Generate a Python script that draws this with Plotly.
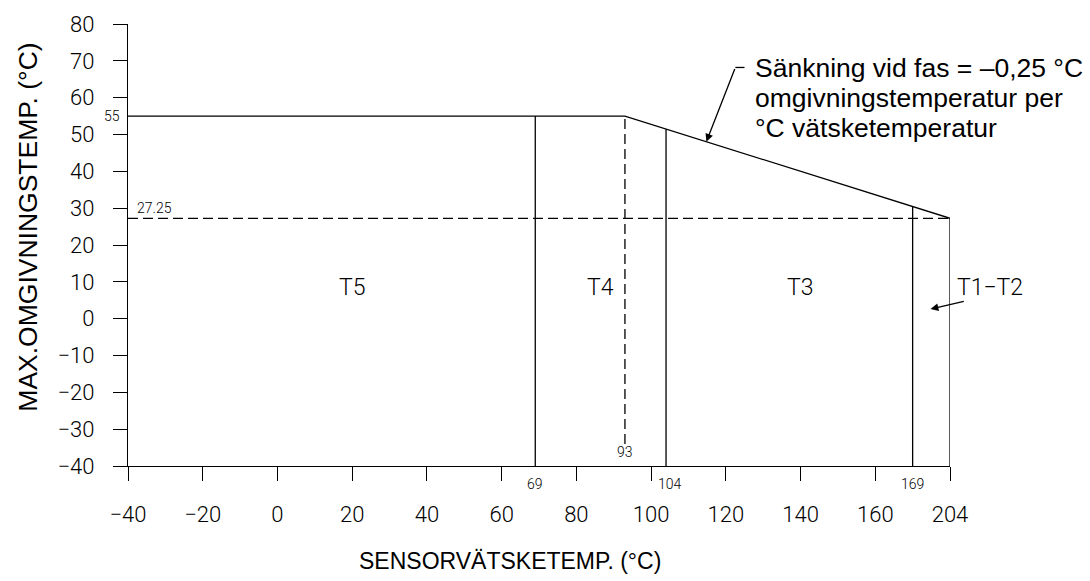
import numpy as np
import plotly.graph_objects as go

# ---- data (drawing positions on the chart's own axes) ----
# Envelope of max ambient temperature vs. sensor fluid temperature
env_x = [-40, 93, 180]          # 180 is where the "204" mark sits on the drawing axis
env_y = [55, 55, 27.25]

# Temperature-class boundaries (solid verticals) and their printed labels
bound_x = [69, 104, 170]
bound_labels = ["69", "104", "169"]
knee_x = 93
knee_label = "93"
end_x = 180
min_ambient = 27.25
max_ambient = 55
dash_bottom = -34

# Zone labels
zone_names = ["T5", "T4", "T3"]
zone_x = [20, 86.4, 140]
zone_y = [8.5, 8.5, 8.5]
t12_label = "T1\u2212T2"

# Axis ticks
x_ticks = [-40, -20, 0, 20, 40, 60, 80, 100, 120, 140, 160, 180]
x_ticktext = ["\u221240", "\u221220", "0", "20", "40", "60", "80", "100", "120", "140", "160", "204"]
y_ticks = list(range(-40, 81, 10))

note_lines = ["Sänkning vid fas = \u20130,25 °C", "omgivningstemperatur per", "°C vätsketemperatur"]

BLACK = "#000000"
LW = 1.3
SANS = "Liberation Sans, Arial, sans-serif"
CAD = "Roboto, Liberation Sans, sans-serif"

fig = go.Figure()

def line(xs, ys, dash=None):
    fig.add_trace(go.Scatter(x=xs, y=ys, mode="lines", hoverinfo="skip", showlegend=False,
                             line=dict(color=BLACK, width=LW, dash=dash)))

# envelope
line(env_x, env_y)
# right boundary
line([end_x, end_x], [min_ambient, -40])
# class boundaries
for b in bound_x:
    line([b, b], [-40, float(np.interp(b, env_x, env_y))])
# dashed guides
line([knee_x, knee_x], [dash_bottom, max_ambient], dash="10px,5px")
line([-40, end_x], [min_ambient, min_ambient], dash="10px,5px")

ann = []
small = dict(family=CAD, size=14, color=BLACK, weight=300)
big = dict(family=CAD, size=23, color=BLACK, weight=300)

ann.append(dict(x=-40, y=max_ambient, xref="x", yref="y", text=str(max_ambient), showarrow=False,
                xanchor="right", yanchor="middle", xshift=-6, font=small))
ann.append(dict(x=-40, y=min_ambient, xref="x", yref="y", text=f"{min_ambient:.2f}", showarrow=False,
                xanchor="left", yanchor="bottom", xshift=7, yshift=0, font=small))
ann.append(dict(x=knee_x, y=-40, xref="x", yref="y", text=knee_label, showarrow=False,
                xanchor="center", yanchor="bottom", yshift=4, font=small))
for b, lab in zip(bound_x, bound_labels):
    ann.append(dict(x=b, y=-40, xref="x", yref="y", text=lab, showarrow=False,
                    xanchor="center", yanchor="top", yshift=-8,
                    xshift=4 if lab == "104" else 0, font=small))
for n, zx, zy in zip(zone_names, zone_x, zone_y):
    ann.append(dict(x=zx, y=zy, xref="x", yref="y", text=n, showarrow=False, font=big))
ann.append(dict(x=end_x, y=zone_y[0], xref="x", yref="y", text=t12_label, showarrow=False,
                xanchor="left", xshift=5, font=big))
# T1-T2 arrow
ann.append(dict(x=174.8, y=2.6, xref="x", yref="y", ax=184.1, ay=4.8, axref="x", ayref="y",
                text="", showarrow=True, arrowhead=2, arrowsize=1.2, arrowwidth=LW, arrowcolor=BLACK))
# slope note arrow
tip_x = 114.8
tip_y = float(np.interp(tip_x, env_x, env_y))
ann.append(dict(x=tip_x, y=tip_y, xref="x", yref="y", ax=122.55, ay=68.2, axref="x", ayref="y",
                text="", showarrow=True, arrowhead=2, arrowsize=1.2, arrowwidth=LW, arrowcolor=BLACK))
fig.add_shape(type="line", x0=122.55, x1=125.0, y0=68.2, y1=68.2, xref="x", yref="y",
              line=dict(color=BLACK, width=LW))
for i, t in enumerate(note_lines):
    ann.append(dict(x=(753 - 128) / 822, y=(466 - 64 - 30 * i) / 447, xref="paper", yref="paper",
                    text=t, showarrow=False, xanchor="left", yanchor="middle",
                    font=dict(family=SANS, size=26.5, color=BLACK)))
# axis titles
ann.append(dict(x=(510 - 128) / 822, y=(466 - 562) / 447, xref="paper", yref="paper",
                text="SENSORVÄTSKETEMP. (°C)", showarrow=False, xanchor="center", yanchor="middle",
                font=dict(family=SANS, size=23, color=BLACK)))
ann.append(dict(x=(28 - 128) / 822, y=(466 - 225) / 447, xref="paper", yref="paper",
                text="MAX.OMGIVNINGSTEMP. (°C)", showarrow=False, textangle=-90,
                xanchor="center", yanchor="middle",
                font=dict(family=SANS, size=26.5, color=BLACK)))

axis_common = dict(showline=True, linecolor=BLACK, linewidth=LW, ticks="outside", ticklen=14,
                   tickwidth=LW, tickcolor=BLACK, showgrid=False, zeroline=False,
                   tickfont=dict(family=CAD, size=22, color=BLACK, weight=300), ticklabelstandoff=14)

fig.update_layout(
    width=1090, height=581,
    margin=dict(l=128, r=140, t=19, b=115),
    paper_bgcolor="white", plot_bgcolor="white",
    xaxis=dict(range=[-40, 180], tickvals=x_ticks, ticktext=x_ticktext, **axis_common),
    yaxis=dict(range=[-40, 80], tickvals=y_ticks, **axis_common),
    annotations=ann,
)

fig.write_html("out.html")
